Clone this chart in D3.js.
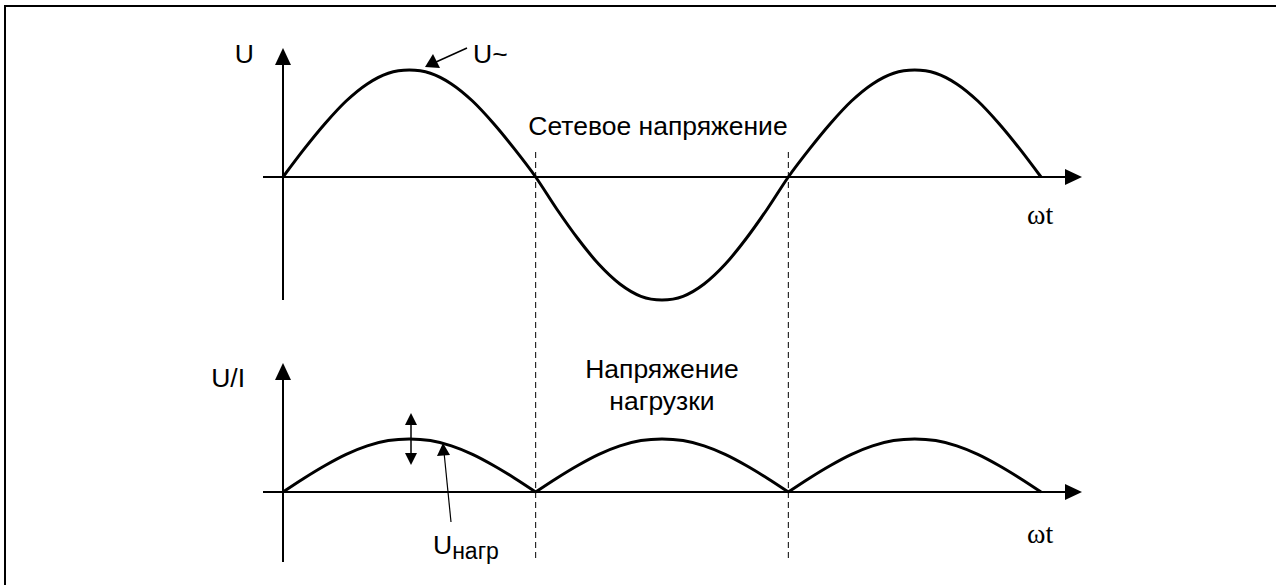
<!DOCTYPE html>
<html>
<head>
<meta charset="utf-8">
<script src="https://d3js.org/d3.v7.min.js"></script>
<title>Выпрямление</title>
<style>
  body { margin: 0; background: #fff; }
  text { font-family: "Liberation Sans", Arial, sans-serif; fill: #000; }
</style>
</head>
<body>
<script>

// фаза, градусы
var phase = [0, 15, 30, 45, 60, 75, 90, 105, 120, 135, 150, 165, 180,
             195, 210, 225, 240, 255, 270, 285, 300, 315, 330, 345, 360,
             375, 390, 405, 420, 435, 450, 465, 480, 495, 510, 525, 540];

// сетевое напряжение U~ (отн.)
var uNet = [0, 0.26, 0.5, 0.71, 0.87, 0.97, 1, 0.97, 0.87, 0.71, 0.5, 0.26, 0,
            -0.26, -0.5, -0.71, -0.87, -0.97, -1, -0.97, -0.87, -0.71, -0.5, -0.26, 0,
            0.26, 0.5, 0.71, 0.87, 0.97, 1, 0.97, 0.87, 0.71, 0.5, 0.26, 0];

// напряжение нагрузки (после выпрямления)
var uLoad = [0, 0.26, 0.5, 0.71, 0.87, 0.97, 1, 0.97, 0.87, 0.71, 0.5, 0.26, 0,
             0.26, 0.5, 0.71, 0.87, 0.97, 1, 0.97, 0.87, 0.71, 0.5, 0.26, 0,
             0.26, 0.5, 0.71, 0.87, 0.97, 1, 0.97, 0.87, 0.71, 0.5, 0.26, 0];

var zeroCross = [180, 360];

var width = 1276,
    height = 585;

var svg = d3.select("body")
  .append("svg")
  .attr("width", width)
  .attr("height", height);

// рамка (только сверху и слева видна)
svg.append("path")
  .attr("d", "M5,585 V6 H1276")
  .attr("fill", "none")
  .attr("stroke", "#000")
  .attr("stroke-width", 2);

var x = d3.scaleLinear().domain([0, 540]).range([283, 1041]);
var yTop = d3.scaleLinear().domain([-1, 0, 1]).range([300, 177, 70]);
var yBot = d3.scaleLinear().domain([0, 1]).range([492, 439]);

function arrowHead(g, tx, ty, dir, len, half) {
  var p;
  if (dir == "up") p = [[tx, ty], [tx - half, ty + len], [tx + half, ty + len]];
  else if (dir == "down") p = [[tx, ty], [tx - half, ty - len], [tx + half, ty - len]];
  else p = [[tx, ty], [tx - len, ty - half], [tx - len, ty + half]];
  g.append("path").attr("d", d3.line()(p) + "Z").attr("fill", "#000");
}

function axes(y, yTip, yBottom) {
  var g = svg.append("g");
  g.append("line")
    .attr("x1", 263).attr("x2", 1068)
    .attr("y1", y(0)).attr("y2", y(0))
    .attr("stroke", "#000").attr("stroke-width", 2);
  arrowHead(g, 1082, y(0), "right", 17, 8);
  g.append("line")
    .attr("x1", x(0)).attr("x2", x(0))
    .attr("y1", yBottom).attr("y2", yTip + 12)
    .attr("stroke", "#000").attr("stroke-width", 2);
  arrowHead(g, x(0), yTip, "up", 17, 8);
}

axes(yTop, 48, 300);
axes(yBot, 363, 562);

// пунктир в точках перехода через ноль
svg.selectAll(".dash")
  .data(zeroCross)
  .enter()
  .append("line")
  .attr("x1", function(d) { return x(d); })
  .attr("x2", function(d) { return x(d); })
  .attr("y1", 152).attr("y2", 562)
  .attr("stroke", "#000")
  .attr("stroke-width", 1)
  .attr("stroke-dasharray", "6,4");

var lineTop = d3.line()
  .x(function(d, i) { return x(phase[i]); })
  .y(function(d) { return yTop(d); })
  .curve(d3.curveCardinal);

svg.append("path")
  .attr("d", lineTop(uNet))
  .attr("fill", "none").attr("stroke", "#000").attr("stroke-width", 3);

// нижний график: по полуволнам, чтобы сохранить изломы
[[0, 12], [12, 24], [24, 36]].forEach(function(r) {
  svg.append("path")
    .attr("d", d3.line()
      .x(function(d, i) { return x(phase[r[0] + i]); })
      .y(function(d) { return yBot(d); })
      .curve(d3.curveCardinal)(uLoad.slice(r[0], r[1] + 1)))
    .attr("fill", "none").attr("stroke", "#000").attr("stroke-width", 3);
});

// указатель U~
svg.append("line")
  .attr("x1", 467).attr("y1", 48).attr("x2", 436).attr("y2", 62)
  .attr("stroke", "#000").attr("stroke-width", 1.5);
svg.append("path")
  .attr("d", "M425,67 L433,54 L440,68 Z")
  .attr("fill", "#000");

// двойная стрелка
svg.append("line")
  .attr("x1", 411).attr("x2", 411).attr("y1", 420).attr("y2", 458)
  .attr("stroke", "#000").attr("stroke-width", 1.5);
arrowHead(svg, 411, 413, "up", 12, 6);
arrowHead(svg, 411, 465, "down", 12, 6);

// указатель Uнагр
svg.append("line")
  .attr("x1", 451).attr("y1", 522).attr("x2", 444).attr("y2", 452)
  .attr("stroke", "#000").attr("stroke-width", 1.2);
svg.append("path")
  .attr("d", "M443,443 L437,456 L450,455 Z")
  .attr("fill", "#000");

// подписи
var fs = 26.5;
svg.append("text").attr("x", 254).attr("y", 63).attr("text-anchor", "end")
  .style("font-size", fs + "px").text("U");
svg.append("text").attr("x", 473).attr("y", 63)
  .style("font-size", fs + "px").text("U~");
svg.append("text").attr("x", 658).attr("y", 135).attr("text-anchor", "middle")
  .style("font-size", fs + "px").text("Сетевое напряжение");
svg.append("text").attr("x", 245).attr("y", 387).attr("text-anchor", "end")
  .style("font-size", fs + "px").text("U/I");
svg.append("text").attr("x", 662).attr("y", 378).attr("text-anchor", "middle")
  .style("font-size", fs + "px").text("Напряжение");
svg.append("text").attr("x", 662).attr("y", 410).attr("text-anchor", "middle")
  .style("font-size", fs + "px").text("нагрузки");

[224, 543].forEach(function(yy) {
  svg.append("text").attr("x", 1027).attr("y", yy)
    .style("font-family", "'Liberation Serif', serif")
    .style("font-size", "28px").text("ωt");
});

var ul = svg.append("text").attr("x", 433).attr("y", 554)
  .style("font-size", fs + "px");
ul.append("tspan").text("U");
ul.append("tspan").attr("dy", 5).style("font-size", "23px").text("нагр");

</script>
</body>
</html>
